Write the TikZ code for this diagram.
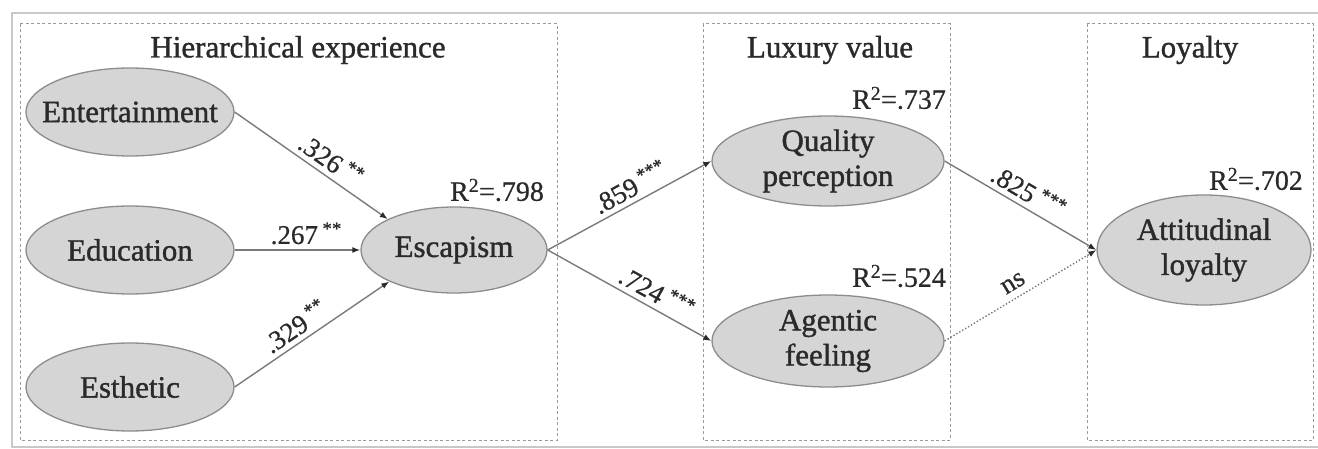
\documentclass[tikz,border=0pt]{standalone}
\usepackage{fontspec}
\setmainfont{LiberationSerif}[Extension=.ttf, UprightFont=*-Regular, ItalicFont=*-Italic, BoldFont=*-Bold, BoldItalicFont=*-BoldItalic]
\newfontfamily\heavyserif{LiberationSerif}[Extension=.ttf, UprightFont=*-Regular, FakeBold=1.2]
\newfontfamily\midserif{LiberationSerif}[Extension=.ttf, UprightFont=*-Regular, FakeBold=0.6]
\usetikzlibrary{shapes.geometric,arrows.meta}
\definecolor{ellfill}{HTML}{D5D5D5}
\definecolor{elldraw}{HTML}{8C8C8C}
\definecolor{txtc}{HTML}{2A2A2A}
\definecolor{linec}{HTML}{7A7A7A}
\definecolor{boxc}{HTML}{9A9A9A}
\definecolor{framec}{HTML}{C8C8C8}
\begin{document}
\begin{tikzpicture}[x=1pt,y=-1pt,
  ell/.style={ellipse, draw=elldraw, line width=1.3pt, fill=ellfill, inner sep=0pt},
  txt/.style={text=txtc, font=\heavyserif\fontsize{31}{35}\selectfont, align=center, inner sep=0pt},
  rsq/.style={text=txtc, font=\midserif\fontsize{28}{30}\selectfont, inner sep=0pt},
  conn/.style={draw=linec, line width=1.4pt, -{Latex[length=8pt,width=6pt,color=txtc]}},
  elab/.style={sloped, above=5pt, text=txtc, font=\midserif\fontsize{27}{30}\selectfont, inner sep=0pt},
  grp/.style={draw=boxc, line width=1pt, dash pattern=on 3pt off 2.5pt}
]
\useasboundingbox (0,0) rectangle (1318,449);
% outer frame
\draw[framec, line width=2pt] (12,13) rectangle (1319,447);
% group boxes
\draw[grp] (20,24) rectangle (557,440);
\draw[grp] (703,24) rectangle (950,440);
\draw[grp] (1087,24) rectangle (1313,440);
\node[txt] (t1) at (298,50) {Hierarchical experience};
\node[txt] (t2) at (830,50) {Luxury value};
\node[txt] (t3) at (1190,50) {Loyalty};
% ellipses
\node[ell, minimum width=208pt, minimum height=88pt] (ent) at (130,112) {};
\node[ell, minimum width=208pt, minimum height=88pt] (edu) at (130,250) {};
\node[ell, minimum width=208pt, minimum height=88pt] (est) at (130,387) {};
\node[ell, minimum width=186pt, minimum height=86pt] (esc) at (454,250) {};
\node[ell, minimum width=232pt, minimum height=90pt] (qua) at (828,161) {};
\node[ell, minimum width=232pt, minimum height=92pt] (age) at (828,341) {};
\node[ell, minimum width=214pt, minimum height=110pt] (att) at (1204,250) {};
\node[txt] (entT) at (ent) {Entertainment};
\node[txt] (eduT) at (edu) {Education};
\node[txt] (estT) at (est) {Esthetic};
\node[txt] (escT) at (esc) {Escapism};
\node[txt] (quaT) at (qua) {Quality\\perception};
\node[txt] (ageT) at (age) {Agentic\\feeling};
\node[txt] (attT) at (att) {Attitudinal\\loyalty};
% R2 labels
\node[rsq] (r1) at (497,190) {R\textsuperscript{2}=.798};
\node[rsq] (r2) at (899,98) {R\textsuperscript{2}=.737};
\node[rsq] (r3) at (899,276) {R\textsuperscript{2}=.524};
\node[rsq] (r4) at (1256,179) {R\textsuperscript{2}=.702};
% connectors
\draw[conn] (ent.east) -- node[elab, pos=0.57] {.326\,\textsuperscript{**}} (esc.155);
\draw[conn] (edu.east) -- node[elab, pos=0.57] {.267\,\textsuperscript{**}} (esc.west);
\draw[conn] (est.east) -- node[elab, pos=0.45] {.329\,\textsuperscript{**}} (esc.206);
\draw[conn] (esc.east) -- node[elab, pos=0.55] {.859\,\textsuperscript{***}} (qua.west);
\draw[conn] (esc.east) -- node[elab, pos=0.62] {.724\,\textsuperscript{***}} (age.west);
\draw[conn] (qua.east) -- node[elab, pos=0.5] {.825\,\textsuperscript{***}} (att.west);
\draw[conn, dotted] (age.east) -- node[elab, pos=0.5, above=2pt] {ns} (att.west);
\end{tikzpicture}
\end{document}
